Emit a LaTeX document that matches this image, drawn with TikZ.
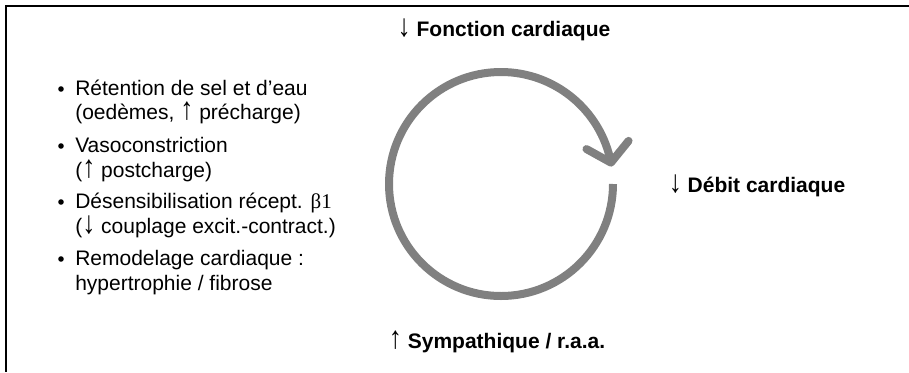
\documentclass[tikz,border=0pt]{standalone}
\usepackage{fontspec}
\setmainfont{Liberation Sans}
\newfontfamily\serifgr{Liberation Serif}
\newcommand{\dnarr}{\smash{\scalebox{1.25}[1.5]{\mdseries ↓}}}
\newcommand{\uparr}{\smash{\scalebox{1.25}[1.5]{\mdseries ↑}}}
\usetikzlibrary{calc}
\begin{document}
\begin{tikzpicture}[x=0.75pt,y=-0.75pt,
  frame/.style={line width=1.5pt,black},
  cyc/.style={line width=6pt,color=cycgray},
  lbl/.style={font=\fontsize{15.75}{18}\selectfont\bfseries,anchor=base,inner sep=0pt},
  item/.style={font=\fontsize{15.75}{18}\selectfont,anchor=base west,inner sep=0pt},
  bul/.style={circle,fill=black,inner sep=0pt,minimum size=4.2pt}]
\definecolor{cycgray}{HTML}{808080}
\useasboundingbox (0,0) rectangle (909,372);
% frame (top and left)
\coordinate (ftr) at (909,6);
\coordinate (ftl) at (6,6);
\coordinate (fbl) at (6,372);
\draw[frame] (ftr) -- (ftl) -- (fbl);
% cycle arrow
\coordinate (c) at (501,184);
\coordinate (start) at (613,184);
\coordinate (tip) at ($(c)+(349:112)$);
\draw[cyc,line cap=butt] (start) arc[start angle=0,end angle=349,radius=112];
\coordinate (arm1) at ($(tip)+(209:28)$);
\coordinate (arm2) at ($(tip)+(309:28)$);
\draw[cyc,line cap=round,line join=round] (arm1) -- (tip) -- (arm2);
% labels
\node[lbl] (fc) at (504,36) {\dnarr\ Fonction cardiaque};
\node[lbl] (dc) at (757,192) {\dnarr\ Débit cardiaque};
\node[lbl] (sy) at (497,348) {\uparr\ Sympathique / r.a.a.};
% list
\node[bul] (b1) at (61,89) {};
\node[item] (l1a) at (75,95) {Rétention de sel et d’eau};
\node[item] (l1b) at (75,119) {(oedèmes, \uparr\ précharge)};
\node[bul] (b2) at (61,146) {};
\node[item] (l2a) at (75,152) {Vasoconstriction};
\node[item] (l2b) at (75,177) {(\uparr\ postcharge)};
\node[bul] (b3) at (61,202) {};
\node[item] (l3a) at (75,208) {Désensibilisation récept. {\serifgr β1}};
\node[item] (l3b) at (75,233) {(\dnarr\ couplage excit.-contract.)};
\node[bul] (b4) at (61,259) {};
\node[item] (l4a) at (75,265) {Remodelage cardiaque :};
\node[item] (l4b) at (75,290) {hypertrophie / fibrose};
\end{tikzpicture}
\end{document}
